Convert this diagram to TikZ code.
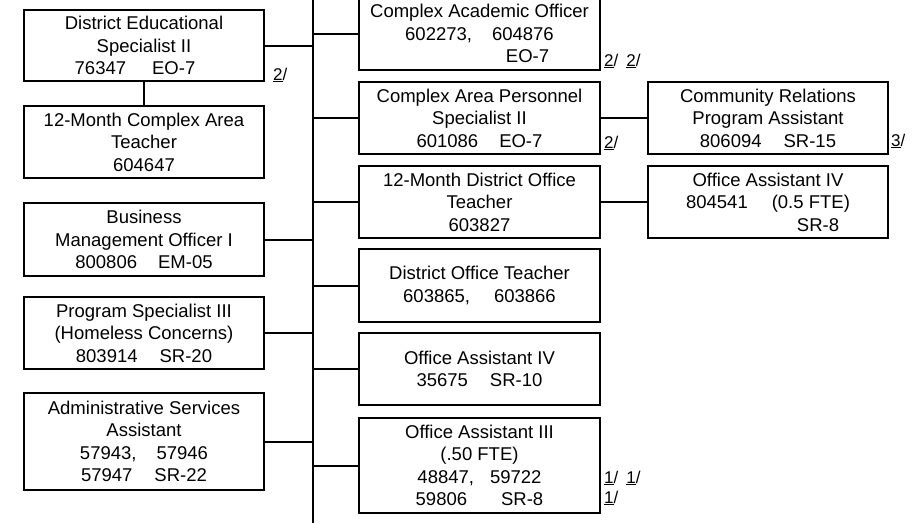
\documentclass[tikz,border=0pt]{standalone}
\usepackage{fontspec}
\setmainfont{Liberation Sans}
\usetikzlibrary{positioning,calc}

\begin{document}
\begin{tikzpicture}[x=1pt,y=-1pt,
  post/.style={draw, line width=2pt, inner sep=0pt, align=center,
    minimum width=240pt, font=\fontsize{18.5}{22.5}\selectfont},
  note/.style={inner sep=0pt, anchor=base west, font=\fontsize{17}{19}\selectfont},
  link/.style={line width=2pt}]

  \useasboundingbox (0,0) rectangle (914,523);

  % left column
  \node[post, minimum height=71pt] (des) at (144,45.5)
    {District Educational\\Specialist II\\76347\hspace{26pt}EO-7\hspace*{18pt}};
  \node[post, minimum height=72pt] (cat) at (144,142)
    {12-Month Complex Area\\Teacher\\604647};
  \node[post, minimum height=73pt] (bmo) at (144,239.5)
    {Business\\Management Officer I\\800806\hspace{21pt}EM-05};
  \node[post, minimum height=72pt] (psh) at (144,333)
    {Program Specialist III\\(Homeless Concerns)\\803914\hspace{22pt}SR-20};
  \node[post, minimum height=97pt] (asa) at (144,441.5)
    {Administrative Services\\Assistant\\57943,\hspace{20pt}57946\\57947\hspace{22pt}SR-22};

  % middle column
  \node[post, minimum width=241pt, minimum height=73pt] (cao) at (479.5,33.5)
    {Complex Academic Officer\\602273,\hspace{20pt}604876\\\hspace*{96pt}EO-7};
  \node[post, minimum width=241pt, minimum height=72pt] (caps) at (479.5,118)
    {Complex Area Personnel\\Specialist II\\601086\hspace{21pt}EO-7};
  \node[post, minimum width=241pt, minimum height=72pt] (mdot) at (479.5,202)
    {12-Month District Office\\Teacher\\603827};
  \node[post, minimum width=241pt, minimum height=73pt] (dot) at (479.5,285.5)
    {District Office Teacher\\603865,\hspace{24pt}603866};
  \node[post, minimum width=241pt, minimum height=72pt] (oaf) at (479.5,369)
    {Office Assistant IV\\35675\hspace{22pt}SR-10};
  \node[post, minimum width=241pt, minimum height=95pt] (oat) at (479.5,465.5)
    {Office Assistant III\\(.50 FTE)\\48847,\hspace{16pt}59722\\59806\hspace{34pt}SR-8};

  % right column
  \node[post, minimum height=72pt] (crpa) at (768,118)
    {Community Relations\\Program Assistant\\806094\hspace{22pt}SR-15};
  \node[post, minimum height=72pt] (oah) at (768,202)
    {Office Assistant IV\\804541\hspace{24pt}(0.5 FTE)\\\hspace*{100pt}SR-8};

  % footnote marks
  \node[note] (n1) at (273,80) {\underline{2}/};
  \node[note] (n2) at (604,66) {\underline{2}/\hspace{8pt}\underline{2}/};
  \node[note] (n3) at (604,148) {\underline{2}/};
  \node[note] (n4) at (891,146) {\underline{3}/};
  \node[note] (n5) at (604,483) {\underline{1}/\hspace{8pt}\underline{1}/};
  \node[note] (n6) at (604,503) {\underline{1}/};

  % trunk and branches
  \coordinate (trunktop) at (312.5,0);
  \coordinate (trunkbot) at (312.5,523);
  \draw[link] (trunktop) -- (trunkbot);
  \draw[link] (des) -- (cat);
  \foreach \n in {des,bmo,psh,asa}
    \draw[link] (\n.east) -- (\n.east -| trunktop);
  \foreach \n in {cao,caps,mdot,dot,oaf,oat}
    \draw[link] (trunktop |- \n.west) -- (\n.west);
  \draw[link] (caps.east) -- (crpa.west);
  \draw[link] (mdot.east) -- (oah.west);

\end{tikzpicture}
\end{document}
